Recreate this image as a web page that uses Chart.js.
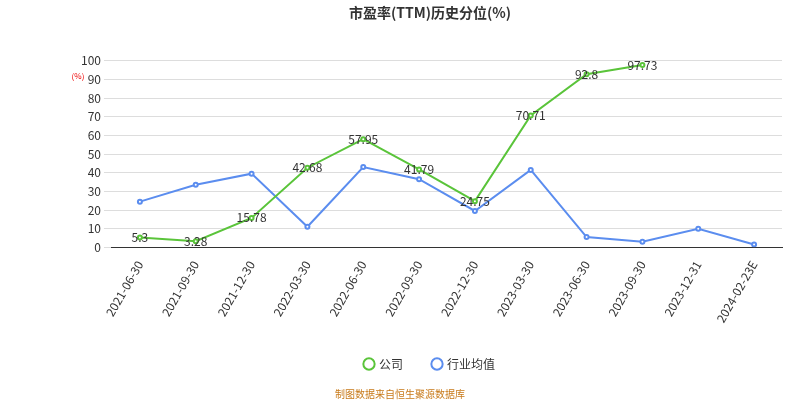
<!DOCTYPE html>
<html><head><meta charset="utf-8">
<script src="https://cdn.jsdelivr.net/npm/chart.js@4/dist/chart.umd.min.js"></script>
<style>body{margin:0;background:#fff}#w{position:relative;width:800px;height:400px}</style>
</head><body><div id="w"><canvas id="c" width="800" height="400"></canvas></div>
<script>
const categories=['2021-06-30','2021-09-30','2021-12-30','2022-03-30','2022-06-30','2022-09-30','2022-12-30','2023-03-30','2023-06-30','2023-09-30','2023-12-31','2024-02-23E'];
const companyValues=[5.3,3.28,15.78,42.68,57.95,41.79,24.75,70.71,92.8,97.73,null,null];
const industryValues=[24.5,33.5,39.5,11,43,36.5,19.5,41.5,5.5,3,10,1.5];
const yTicks=[0,10,20,30,40,50,60,70,80,90,100];
const F='"Noto Sans CJK SC","Noto Sans",sans-serif';
const labelPlugin={id:'lbl',afterDatasetsDraw(ch){const ctx=ch.ctx;const m=ch.getDatasetMeta(0);ctx.save();ctx.font='12px '+F;ctx.fillStyle='#333';ctx.textAlign='center';ctx.textBaseline='middle';
m.data.forEach((p,i)=>{const v=companyValues[i];if(v==null)return;ctx.fillText(String(v),p.x,p.y);});
ctx.fillStyle='#e00';ctx.font='8px '+F;ctx.fillText('(%)',78,76);
ctx.fillStyle='#c87a1a';ctx.font='10px '+F;ctx.fillText('制图数据来自恒生聚源数据库',400,394);ctx.restore();}};
new Chart(document.getElementById('c'),{type:'line',data:{labels:categories,datasets:[
{label:'公司',data:companyValues,borderColor:'#5ac43a',backgroundColor:'#fff',pointBorderColor:'#5ac43a',pointRadius:2,borderWidth:2,tension:0},
{label:'行业均值',data:industryValues,borderColor:'#5b8def',backgroundColor:'#fff',pointBorderColor:'#5b8def',pointRadius:2,borderWidth:2,tension:0}]},
plugins:[labelPlugin],
options:{responsive:false,animation:false,layout:{padding:{left:78,right:18,top:0,bottom:20}},
plugins:{title:{display:true,text:'市盈率(TTM)历史分位(%)',font:{family:F,size:14,weight:'bold'},color:'#333',padding:{top:4,bottom:40}},
legend:{position:'bottom',labels:{font:{family:F,size:12},color:'#333',usePointStyle:true,pointStyle:'circle',boxWidth:8,boxHeight:8,padding:30}},tooltip:{enabled:false}},
scales:{x:{offset:true,grid:{display:false},border:{color:'#333'},ticks:{font:{family:F,size:12},color:'#333',maxRotation:60,minRotation:60}},
y:{min:0,max:100,afterBuildTicks(a){a.ticks=yTicks.map(v=>({value:v}));},grid:{color:'#ddd'},border:{display:false},ticks:{font:{family:F,size:12},color:'#333'}}}}});
</script></body></html>
